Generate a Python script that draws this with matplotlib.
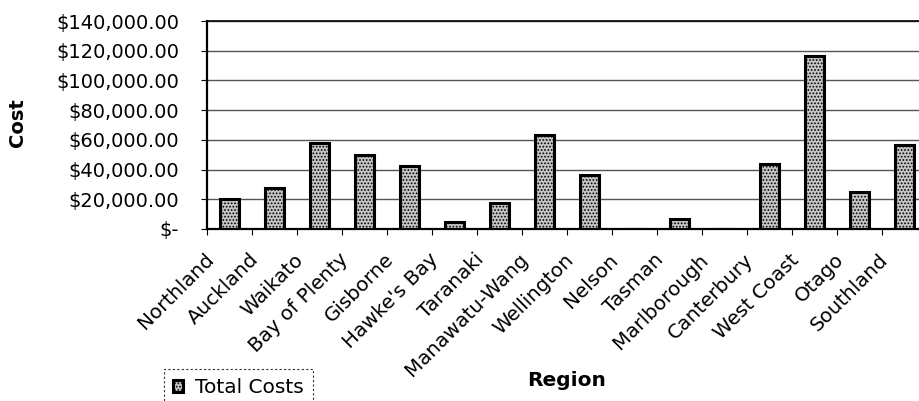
import matplotlib
matplotlib.use("Agg")
import matplotlib.pyplot as plt
import numpy as np
from matplotlib.ticker import FuncFormatter
from matplotlib.transforms import ScaledTranslation

plt.rcParams['font.family'] = ['DejaVu Sans']
plt.rcParams['hatch.color'] = '#555555'
plt.rcParams['hatch.linewidth'] = 0.8

regions = ["Northland", "Auckland", "Waikato", "Bay of Plenty", "Gisborne",
           "Hawke's Bay", "Taranaki", "Manawatu-Wang", "Wellington", "Nelson",
           "Tasman", "Marlborough", "Canterbury", "West Coast", "Otago", "Southland"]
total_costs = [20000, 27500, 58000, 49500, 42500, 4500, 17200, 63500, 36300, 0,
               6700, 0, 43700, 116500, 24800, 56500]
y_ticks = [0, 20000, 40000, 60000, 80000, 100000, 120000, 140000]


def money(v, pos=None):
    if v == 0:
        return "$-"
    return "${:,.2f}".format(v)


fig = plt.figure(figsize=(9.19, 4.01), dpi=100)
ax = fig.add_axes([207 / 919, 1 - 229 / 401, 720 / 919, 208 / 401])

x = np.arange(len(regions))
ax.bar(x, total_costs, width=0.44, facecolor='#c4c4c4', edgecolor='black',
       linewidth=2.2, hatch='.....', zorder=3)

ax.set_xlim(-0.5, len(regions) - 0.5)
ax.set_ylim(0, 140000)
ax.set_yticks(y_ticks)
ax.yaxis.set_major_formatter(FuncFormatter(money))
ax.grid(axis='y', color='#555555', linewidth=1.0, zorder=0)
ax.set_axisbelow(True)

ax.set_xticks(x)
ax.set_xticklabels(regions, rotation=45, ha='right', va='center',
                   rotation_mode='anchor', fontsize=14.3)
ax.set_xticks(np.arange(-0.5, len(regions)), minor=True)
ax.tick_params(axis='x', which='major', length=0, pad=20)
ax.tick_params(axis='x', which='minor', length=4, width=0.8, direction='out')
ax.tick_params(axis='y', length=4, width=0.8, labelsize=14, pad=16)
shift = ScaledTranslation(-19 / 100, 0, fig.dpi_scale_trans)
for lbl in ax.get_xticklabels():
    lbl.set_transform(lbl.get_transform() + shift)

for name, s in ax.spines.items():
    s.set_color('black')
    s.set_linewidth(1.2 if name == 'top' else 1.6)

fig.text(18 / 919, 1 - 123 / 401, "Cost", fontsize=14, fontweight='bold',
         rotation=90, ha='center', va='center')
fig.text(567 / 919, 1 - 381 / 401, "Region", fontsize=14.5, fontweight='bold',
         ha='center', va='center')

leg = fig.legend(["Total Costs"], loc='upper left',
                 bbox_to_anchor=(164 / 919, 1 - 369 / 401), borderaxespad=0,
                 fontsize=14.5, handlelength=0.5, handleheight=0.5,
                 handletextpad=0.6, borderpad=0.45, fancybox=False,
                 framealpha=1)
leg.get_frame().set_edgecolor('#333333')
leg.get_frame().set_linestyle((0, (2, 2)))
leg.get_frame().set_linewidth(0.8)

fig.savefig("out.png", dpi=100)
